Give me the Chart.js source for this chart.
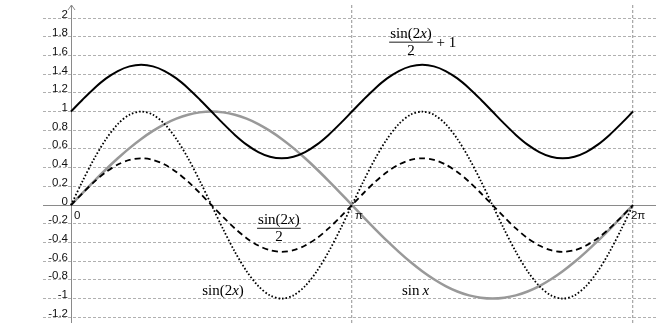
<!DOCTYPE html>
<html>
<head>
<meta charset="utf-8">
<script src="https://cdn.jsdelivr.net/npm/chart.js@4.4.0/dist/chart.umd.min.js"></script>
<style>
html,body{margin:0;padding:0;background:#fff;}
#wrap{width:656px;height:323px;position:relative;}
</style>
</head>
<body>
<div id="wrap"><canvas id="c" width="656" height="323"></canvas></div>
<script>
// x positions in units of pi
const xPi = [0,0.0417,0.0833,0.125,0.1667,0.2083,0.25,0.2917,0.3333,0.375,0.4167,0.4583,0.5,0.5417,0.5833,0.625,0.6667,0.7083,0.75,0.7917,0.8333,0.875,0.9167,0.9583,1,1.0417,1.0833,1.125,1.1667,1.2083,1.25,1.2917,1.3333,1.375,1.4167,1.4583,1.5,1.5417,1.5833,1.625,1.6667,1.7083,1.75,1.7917,1.8333,1.875,1.9167,1.9583,2];
const sinX = [0,.131,.259,.383,.5,.609,.707,.793,.866,.924,.966,.991,1,.991,.966,.924,.866,.793,.707,.609,.5,.383,.259,.131,0,-.131,-.259,-.383,-.5,-.609,-.707,-.793,-.866,-.924,-.966,-.991,-1,-.991,-.966,-.924,-.866,-.793,-.707,-.609,-.5,-.383,-.259,-.131,0];
const sin2X = [0,.259,.5,.707,.866,.966,1,.966,.866,.707,.5,.259,0,-.259,-.5,-.707,-.866,-.966,-1,-.966,-.866,-.707,-.5,-.259,0,.259,.5,.707,.866,.966,1,.966,.866,.707,.5,.259,0,-.259,-.5,-.707,-.866,-.966,-1,-.966,-.866,-.707,-.5,-.259,0];
const halfSin2X = [0,.129,.25,.354,.433,.483,.5,.483,.433,.354,.25,.129,0,-.129,-.25,-.354,-.433,-.483,-.5,-.483,-.433,-.354,-.25,-.129,0,.129,.25,.354,.433,.483,.5,.483,.433,.354,.25,.129,0,-.129,-.25,-.354,-.433,-.483,-.5,-.483,-.433,-.354,-.25,-.129,0];
const halfSin2XPlus1 = [1,1.129,1.25,1.354,1.433,1.483,1.5,1.483,1.433,1.354,1.25,1.129,1,.871,.75,.646,.567,.517,.5,.517,.567,.646,.75,.871,1,1.129,1.25,1.354,1.433,1.483,1.5,1.483,1.433,1.354,1.25,1.129,1,.871,.75,.646,.567,.517,.5,.517,.567,.646,.75,.871,1];
const yTicks = [-1.2,-1,-0.8,-0.6,-0.4,-0.2,0,0.2,0.4,0.6,0.8,1,1.2,1.4,1.6,1.8,2];
const yTickLabels = ['-1.2','-1','-0.8','-0.6','-0.4','-0.2','0','0.2','0.4','0.6','0.8','1','1.2','1.4','1.6','1.8','2'];
const xTicks = [0,1,2];
const xTickLabels = ['0','π','2π'];

const pts = arr => arr.map((v,i)=>({x:xPi[i], y:v}));

// math labels, anchored in data coordinates
const mathLabels = [
  {x:1.210, y:1.747, frac:true, num:[['sin(2',0],['x',1],[')',0]], den:'2', tail:' + 1'},
  {x:0.740, y:-0.243, frac:true, num:[['sin(2',0],['x',1],[')',0]], den:'2', tail:''},
  {x:0.541, y:-0.963, frac:false, num:[['sin(2',0],['x',1],[')',0]]},
  {x:1.226, y:-0.963, frac:false, num:[['sin\u2009',0],['x',1]]}
];

const MF = '15px "Liberation Serif", "DejaVu Serif", serif';
const MFI = 'italic 15px "Liberation Serif", "DejaVu Serif", serif';

function segWidth(ctx, segs){
  let w=0;
  segs.forEach(s=>{ctx.font = s[1]?MFI:MF; w+=ctx.measureText(s[0]).width;});
  return w;
}
function drawSegs(ctx, segs, left, base){
  let x=left;
  segs.forEach(s=>{ctx.font = s[1]?MFI:MF; ctx.fillText(s[0], x, base); x+=ctx.measureText(s[0]).width;});
  return x;
}

const overlay = {
  id:'overlay',
  beforeDatasetsDraw(chart){
    const ctx = chart.ctx, xs = chart.scales.x, ys = chart.scales.y, a = chart.chartArea;
    const x0 = Math.round(xs.getPixelForValue(0))+0.5, y0 = Math.round(ys.getPixelForValue(0))+0.5;
    ctx.save();
    ctx.strokeStyle = '#8a8a8a';
    ctx.lineWidth = 1;
    ctx.beginPath();
    ctx.moveTo(a.left, y0); ctx.lineTo(a.right, y0);
    ctx.moveTo(x0, a.top); ctx.lineTo(x0, a.bottom);
    ctx.moveTo(x0-3.5, a.top+5); ctx.lineTo(x0, a.top); ctx.lineTo(x0+3.5, a.top+5);
    ctx.stroke();
    ctx.restore();
  },
  afterDatasetsDraw(chart){
    const ctx = chart.ctx, xs = chart.scales.x, ys = chart.scales.y;
    const x0 = xs.getPixelForValue(0), y0 = ys.getPixelForValue(0);
    ctx.save();
    ctx.fillStyle = '#111';
    ctx.font = '11.5px "Liberation Sans", Arial, sans-serif';
    ctx.textAlign = 'right'; ctx.textBaseline = 'alphabetic';
    yTicks.forEach((v,i)=>{ ctx.fillText(yTickLabels[i], x0-3, ys.getPixelForValue(v)-0.5); });
    ctx.textAlign = 'left';
    xTicks.forEach((v,i)=>{
      const px = xs.getPixelForValue(v);
      const off = i===2 ? -2 : 3;
      ctx.fillText(xTickLabels[i], px+off, y0+14);
    });
    // math labels
    ctx.fillStyle = '#000'; ctx.strokeStyle = '#000';
    ctx.textAlign = 'left'; ctx.textBaseline = 'alphabetic';
    mathLabels.forEach(m=>{
      const cx = xs.getPixelForValue(m.x), cy = ys.getPixelForValue(m.y);
      const w = segWidth(ctx, m.num);
      if(m.frac){
        drawSegs(ctx, m.num, cx-w/2, cy-4);
        ctx.lineWidth = 0.9;
        ctx.beginPath(); ctx.moveTo(cx-w/2-1, cy+0.5); ctx.lineTo(cx+w/2+1, cy+0.5); ctx.stroke();
        ctx.font = MF;
        const dw = ctx.measureText(m.den).width;
        ctx.fillText(m.den, cx-dw/2, cy+13.5);
        if(m.tail){ ctx.fillText(m.tail, cx+w/2+1, cy+5.5); }
      } else {
        drawSegs(ctx, m.num, cx-w/2, cy);
      }
    });
    ctx.restore();
  }
};

new Chart(document.getElementById('c'), {
  type:'line',
  data:{
    datasets:[
      {data:pts(halfSin2XPlus1), borderColor:'#000', borderWidth:2, order:1},
      {data:pts(sin2X), borderColor:'#000', borderWidth:1.8, borderDash:[1.6,2], order:2},
      {data:pts(halfSin2X), borderColor:'#000', borderWidth:1.8, borderDash:[6,4], order:3},
      {data:pts(sinX), borderColor:'#999', borderWidth:2.5, order:4}
    ]
  },
  options:{
    responsive:false,
    animation:false,
    devicePixelRatio:1,
    layout:{padding:{left:43, right:0, top:5, bottom:0}},
    elements:{point:{radius:0}, line:{tension:0.3, fill:false, borderCapStyle:'butt'}},
    plugins:{legend:{display:false}, tooltip:{enabled:false}},
    scales:{
      x:{type:'linear', min:-0.0996, max:2.082,
        afterBuildTicks:s=>{ s.ticks = [{value:1},{value:2}]; },
        afterFit:s=>{ s.height = 0; },
        ticks:{display:false},
        border:{display:false, dash:[3,2]},
        grid:{color:'#aaa', lineWidth:1.3, drawTicks:false}
      },
      y:{type:'linear', min:-1.261, max:2.139,
        afterBuildTicks:s=>{ s.ticks = yTicks.map(v=>({value:v})); },
        afterFit:s=>{ s.width = 0; },
        ticks:{display:false},
        border:{display:false, dash:[3,2]},
        grid:{color:c=> (c.tick && c.tick.value===0) ? 'rgba(0,0,0,0)' : '#b0b0b0', lineWidth:1, drawTicks:false}
      }
    }
  },
  plugins:[overlay]
});
</script>
</body>
</html>
